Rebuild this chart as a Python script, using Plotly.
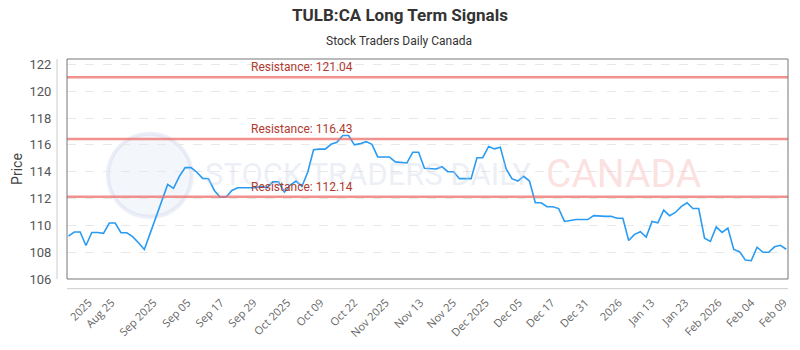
import plotly.graph_objects as go

prices = [109.2, 109.5, 109.5, 108.5, 109.47, 109.47, 109.4, 110.17, 110.17, 109.45,
          109.45, 109.16, 108.7, 108.2, 109.4, 110.6, 111.8, 113.04, 112.76, 113.65,
          114.3, 114.3, 113.96, 113.5, 113.47, 112.6, 112.1, 112.1, 112.6, 112.8,
          112.8, 112.8, 112.8, 112.9, 112.8, 113.24, 113.24, 112.47, 113.0, 113.3,
          112.9, 113.96, 115.63, 115.68, 115.68, 116.04, 116.19, 116.7, 116.7, 116.0,
          116.09, 116.24, 116.04, 115.1, 115.1, 115.1, 114.73, 114.7, 114.65, 115.45,
          115.45, 114.25, 114.2, 114.2, 114.37, 114.0, 114.0, 113.48, 113.48, 113.48,
          115.04, 115.04, 115.88, 115.7, 115.83, 114.2, 113.48, 113.3, 113.65, 113.3,
          111.68, 111.68, 111.39, 111.39, 111.25, 110.29, 110.36, 110.43, 110.43, 110.43,
          110.72, 110.67, 110.67, 110.67, 110.53, 110.53, 108.87, 109.33, 109.52, 109.12,
          110.29, 110.19, 111.13, 110.72, 110.96, 111.39, 111.68, 111.25, 111.25, 109.04,
          108.8, 109.88, 109.47, 109.8, 108.2, 108.04, 107.41, 107.36, 108.37, 107.99,
          107.99, 108.4, 108.51, 108.22]

tick_labels = ["2025", "Aug 25", "Sep 2025", "Sep 05", "Sep 17", "Sep 29", "Oct 2025",
               "Oct 09", "Oct 22", "Nov 2025", "Nov 13", "Nov 25", "Dec 2025", "Dec 05",
               "Dec 17", "Dec 31", "2026", "Jan 13", "Jan 23", "Feb 2026", "Feb 04", "Feb 09"]
tick_pos = [3.5, 7.4, 14.6, 20.4, 26.1, 31.7, 37.5, 43.2, 49.0, 54.4, 60.3, 65.9,
            71.5, 77.2, 82.8, 88.6, 94.3, 99.9, 105.7, 111.4, 117.0, 122.6]

resistance = [121.04, 116.43, 112.14]

x_idx = list(range(len(prices)))

fig = go.Figure()
fig.add_trace(go.Scatter(x=x_idx, y=prices, mode="lines",
                         line=dict(color="#2a9bf2", width=1.6),
                         hoverinfo="skip", showlegend=False))

shapes = []
annotations = []
# watermark
shapes.append(dict(type="circle", xref="paper", yref="paper",
                   x0=(108 - 67) / 723, x1=(192 - 67) / 723,
                   y0=(286 - 222) / 227, y1=(286 - 136) / 227,
                   line=dict(color="rgba(200,210,232,0.35)", width=4),
                   fillcolor="rgba(215,224,242,0.3)", layer="below"))
annotations.append(dict(text="STOCK TRADERS DAILY", xref="paper", yref="paper",
                        x=(203 - 67) / 723, y=(286 - 178) / 227, xanchor="left", yanchor="middle",
                        showarrow=False,
                        font=dict(family="Roboto", size=31,
                                  color="rgba(200,210,230,0.35)")))
annotations.append(dict(text="CANADA", xref="paper", yref="paper",
                        x=(545 - 67) / 723, y=(286 - 178) / 227, xanchor="left", yanchor="middle",
                        showarrow=False,
                        font=dict(family="Roboto", size=39, color="rgba(245,150,150,0.3)")))

for r in resistance:
    shapes.append(dict(type="line", xref="paper", yref="y", x0=0, x1=1, y0=r, y1=r,
                       line=dict(color="rgba(238,110,105,0.75)", width=2.5)))
    annotations.append(dict(text=f"Resistance: {r:.2f}", xref="paper", yref="y",
                            x=(250 - 67) / 723, y=r, xanchor="left", yanchor="bottom",
                            yshift=1, showarrow=False,
                            font=dict(family="Roboto", size=12, color="#b03a2e")))

# frame and offset axis lines
shapes.append(dict(type="rect", xref="paper", yref="paper", x0=0, x1=1, y0=0, y1=1,
                   line=dict(color="#777777", width=1)))
shapes.append(dict(type="line", xref="paper", yref="paper", x0=-10 / 723, x1=-10 / 723,
                   y0=0, y1=1, line=dict(color="#cccccc", width=1)))
shapes.append(dict(type="line", xref="paper", yref="paper", x0=0, x1=1,
                   y0=-10 / 227, y1=-10 / 227, line=dict(color="#cccccc", width=1)))

fig.update_layout(
    width=800, height=350,
    margin=dict(l=67, r=10, t=59, b=64),
    paper_bgcolor="white", plot_bgcolor="white",
    title=dict(text="<b>TULB:CA Long Term Signals</b>", x=0.5, xanchor="center",
               y=1 - 15 / 350, yanchor="middle",
               font=dict(family="Roboto", size=17, color="#333333")),
    shapes=shapes,
    annotations=annotations + [dict(text="Stock Traders Daily Canada", xref="paper", yref="paper",
                                    x=(400 - 67) / 723, y=(286 - 40) / 227, xanchor="center",
                                    yanchor="middle", showarrow=False,
                                    font=dict(family="Roboto", size=12, color="#333333"))],
    xaxis=dict(range=[-0.25, 123.3], tickmode="array", tickvals=tick_pos, ticktext=tick_labels,
               tickangle=-45, showgrid=False, zeroline=False, showline=False,
               ticks="outside", ticklen=12, tickcolor="rgba(0,0,0,0)",
               tickfont=dict(family="Open Sans", size=11, color="#666666")),
    yaxis=dict(range=[106, 122.4], tickmode="array", tickvals=list(range(106, 123, 2)),
               showgrid=True, gridcolor="#e8e8e8", griddash="dash", zeroline=False,
               showline=False, ticks="outside", ticklen=12, tickcolor="rgba(0,0,0,0)",
               tickfont=dict(family="Roboto", size=13, color="#555555"),
               title=dict(text="Price", standoff=3,
                          font=dict(family="Roboto", size=14, color="#444444"))),
)

fig.write_html("out.html")
